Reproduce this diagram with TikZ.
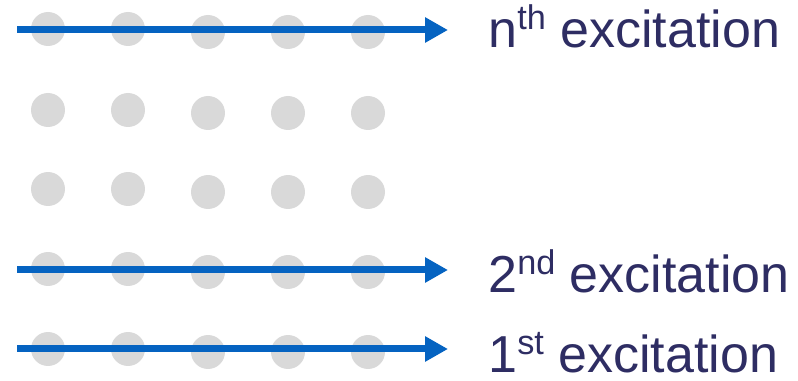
\documentclass[tikz,border=0pt]{standalone}
\usepackage{fontspec}
\setmainfont{Liberation Sans}
\usetikzlibrary{arrows.meta,positioning}
\definecolor{DotGray}{HTML}{D9D9D9}
\definecolor{Beam}{HTML}{0563C1}
\definecolor{Navy}{HTML}{2E2D63}
\newcommand{\ordsup}[1]{\raisebox{0.36em}{\fontsize{19.5}{20}\selectfont #1}}
\tikzset{
  site/.style={
    circle, fill=DotGray, minimum size=0.68cm, inner sep=0pt
  },
  beam/.style={-{Triangle[length=0.46cm,width=0.48cm]}, line width=0.14cm, draw=Beam},
  levelname/.style={
    anchor=base west, inner sep=0pt, text=Navy,
    font=\fontsize{29.6}{32}\selectfont
  }
}

\begin{document}
\begin{tikzpicture}[x=0.02cm,y=-0.02cm]
    \useasboundingbox (0,0) rectangle (798,381);
    % lattice of sites
    \foreach \r/\y in {1/29,2/110,3/189,4/269,5/349}{
      \foreach \c/\x/\dy in {1/48/0,2/128/0,3/208/3,4/288/3,5/368/3}{
        \node[site] (s\r\c) at (\x,\y+\dy) {};
      }
    }
    \node[levelname] (nth) at (488,48) {n\ordsup{th} excitation};
    \node[levelname] (second) at (488,293) {2\ordsup{nd} excitation};
    \node[levelname] (first) at (488,373) {1\ordsup{st} excitation};
    \coordinate (a1) at (17,30);
    \coordinate (b1) at (448,30);
    \coordinate (a4) at (17,270);
    \coordinate (b4) at (448,270);
    \coordinate (a5) at (17,349);
    \coordinate (b5) at (448,349);
    \draw[beam] (a1)--(b1);
    \draw[beam] (a4)--(b4);
    \draw[beam] (a5)--(b5);
  \end{tikzpicture}
\end{document}
